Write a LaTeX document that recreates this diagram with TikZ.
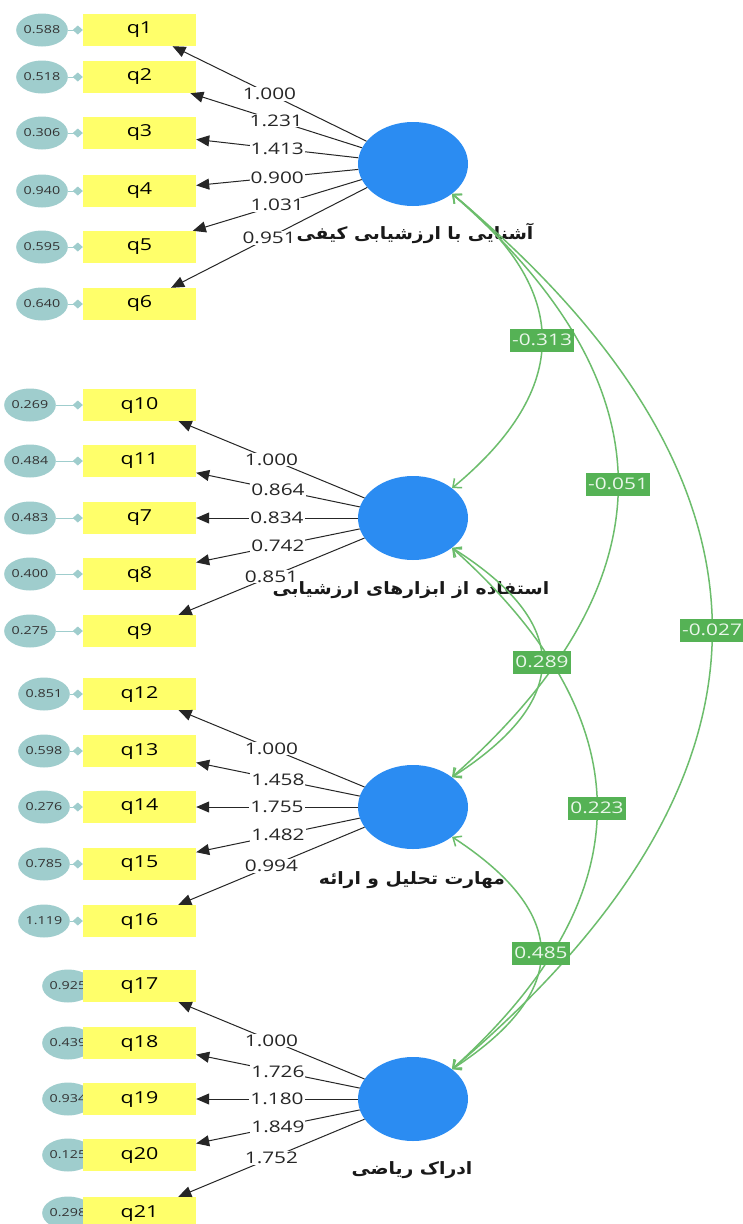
\documentclass[tikz,border=0pt]{standalone}
\usepackage{fontspec}
\setmainfont{Open Sans}[FakeStretch=1.3]
\newfontfamily\arabicfont[Script=Arabic,FakeStretch=1.1]{DejaVu Sans}
\TeXXeTstate=1
\usetikzlibrary{arrows.meta,shapes.geometric,calc}
\definecolor{boxy}{HTML}{FFFF6A}
\definecolor{errc}{HTML}{9FCDCD}
\definecolor{latc}{HTML}{2B8CF2}
\definecolor{covl}{HTML}{6CBD6C}
\definecolor{covf}{HTML}{55B255}
\definecolor{covt}{HTML}{EAF7EA}
\pgfdeclarelayer{bg}
\pgfdeclarelayer{paper}
\pgfsetlayers{paper,bg,main}
\tikzset{
  obs/.style={rectangle,fill=boxy,minimum width=113pt,minimum height=32pt,inner sep=0pt,font=\fontsize{16.5}{18}\selectfont},
  err/.style={ellipse,fill=errc,minimum width=44pt,minimum height=33pt,inner sep=0pt,font=\fontsize{11}{12}\selectfont,text=black!80},
  errline/.style={draw=errc,line width=1pt,-{Diamond[length=10pt,width=9pt]}},
  lat/.style={ellipse,fill=latc,minimum width=110pt,minimum height=84pt,inner sep=0pt},
  latlab/.style={font=\arabicfont\bfseries\fontsize{17}{20}\selectfont,text=black!90},
  load/.style={draw=black!85,line width=1pt,-{Triangle[length=13pt,width=11pt]}},
  ll/.style={fill=white,inner sep=1pt,font=\fontsize{16}{18}\selectfont,text=black!85},
  cov/.style={draw=covl,line width=1.5pt,{Straight Barb[length=7pt,width=12pt]}-{Straight Barb[length=7pt,width=12pt]}},
  covlab/.style={fill=covf,text=covt,inner sep=2pt,minimum height=23pt,font=\fontsize{16}{18}\selectfont},
}
\begin{document}
\begin{tikzpicture}[x=1pt,y=-1pt]
\useasboundingbox (0,0) rectangle (742,1224);
\begin{pgfonlayer}{paper}
\fill[white] (0,0) rectangle (742,1224);
\end{pgfonlayer}
% latent variables
\node[lat] (L1) at (413,164) {};
\node[lat] (L2) at (413,518) {};
\node[lat] (L3) at (413,807) {};
\node[lat] (L4) at (413,1099) {};
% latent labels
\node[latlab] (t1) at (415,233) {\beginR آشنایی با ارزشیابی کیفی\endR};
\node[latlab] (t2) at (411,590) {\beginR استفاده از ابزارهای ارزشیابی\endR};
\node[latlab] (t3) at (412,880) {\beginR مهارت تحلیل و ارائه\endR};
\node[latlab] (t4) at (412,1170) {\beginR ادراک ریاضی\endR};
% indicators
\foreach \n/\y/\e/\l/\lat/\ex in {
  1/30/0.588/1.000/L1/42, 2/77/0.518/1.231/L1/42, 3/133/0.306/1.413/L1/42,
  4/191/0.940/0.900/L1/42, 5/247/0.595/1.031/L1/42, 6/304/0.640/0.951/L1/42,
  10/405/0.269/1.000/L2/30, 11/461/0.484/0.864/L2/30, 7/518/0.483/0.834/L2/30,
  8/574/0.400/0.742/L2/30, 9/631/0.275/0.851/L2/30,
  12/694/0.851/1.000/L3/44, 13/751/0.598/1.458/L3/44, 14/807/0.276/1.755/L3/44,
  15/864/0.785/1.482/L3/44, 16/921/1.119/0.994/L3/44,
  17/986/0.925/1.000/L4/68, 18/1043/0.439/1.726/L4/68, 19/1099/0.934/1.180/L4/68,
  20/1155/0.125/1.849/L4/68, 21/1213/0.298/1.752/L4/68}{
  \begin{pgfonlayer}{bg}
    \node[err] (e\n) at (\ex,\y) {\e};
  \end{pgfonlayer}
  \node[obs] (q\n) at (139.5,\y) {q\n};
  \begin{pgfonlayer}{bg}
    \draw[errline] (e\n) -- (q\n);
  \end{pgfonlayer}
  \draw[load] (\lat) -- node[ll] {\l} (q\n);
}
% covariances
\coordinate (Q1) at ($2*(542,340)-0.5*(L1.south east)-0.5*(L2.north east)$);
\coordinate (Q2) at ($2*(618,484)-0.5*(L1.south east)-0.5*(L3.north east)$);
\coordinate (Q3) at ($2*(712,630)-0.5*(L1.south east)-0.5*(L4.north east)$);
\coordinate (Q4) at ($2*(542,662)-0.5*(L2.south east)-0.5*(L3.north east)$);
\coordinate (Q5) at ($2*(597,808)-0.5*(L2.south east)-0.5*(L4.north east)$);
\coordinate (Q6) at ($2*(541,953)-0.5*(L3.south east)-0.5*(L4.north east)$);
\draw[cov] (L1.south east) .. controls ($(L1.south east)!2/3!(Q3)$) and ($(L4.north east)!2/3!(Q3)$) .. (L4.north east);
\draw[cov] (L1.south east) .. controls ($(L1.south east)!2/3!(Q2)$) and ($(L3.north east)!2/3!(Q2)$) .. (L3.north east);
\draw[cov] (L2.south east) .. controls ($(L2.south east)!2/3!(Q5)$) and ($(L4.north east)!2/3!(Q5)$) .. (L4.north east);
\draw[cov] (L1.south east) .. controls ($(L1.south east)!2/3!(Q1)$) and ($(L2.north east)!2/3!(Q1)$) .. (L2.north east);
\draw[cov] (L2.south east) .. controls ($(L2.south east)!2/3!(Q4)$) and ($(L3.north east)!2/3!(Q4)$) .. (L3.north east);
\draw[cov] (L3.south east) .. controls ($(L3.south east)!2/3!(Q6)$) and ($(L4.north east)!2/3!(Q6)$) .. (L4.north east);
\node[covlab] (c1) at (542,340) {-0.313};
\node[covlab] (c2) at (618,484) {-0.051};
\node[covlab] (c3) at (712,630) {-0.027};
\node[covlab] (c4) at (542,662) {0.289};
\node[covlab] (c5) at (597,808) {0.223};
\node[covlab] (c6) at (541,953) {0.485};
\end{tikzpicture}
\end{document}
